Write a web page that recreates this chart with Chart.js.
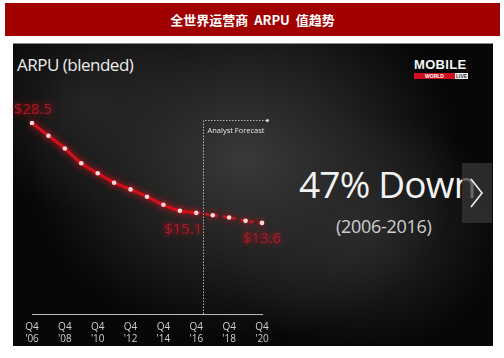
<!DOCTYPE html>
<html>
<head>
<meta charset="utf-8">
<script src="https://cdn.jsdelivr.net/npm/chart.js@4.4.1/dist/chart.umd.min.js"></script>
<style>
  html, body { margin:0; padding:0; background:#fff; width:504px; height:358px; overflow:hidden; }
  #header { position:absolute; left:5px; top:3px; width:495px; height:33px; background:#a00000;
    color:#fff; font:bold 13px "Noto Sans CJK SC", "Liberation Sans", sans-serif; text-align:center; line-height:33px; }
  #slide { position:absolute; left:13px; top:43px; width:480px; height:303px;
    border-top:1px solid #888; box-sizing:border-box;
    background:
      radial-gradient(ellipse 45% 60% at 48% 38%, rgba(60,60,60,0.95), rgba(45,45,45,0.7) 50%, rgba(0,0,0,0) 100%),
      radial-gradient(ellipse 30% 40% at 72% 62%, rgba(50,50,50,0.8), rgba(0,0,0,0) 100%),
      radial-gradient(ellipse 25% 35% at 15% 20%, rgba(40,40,40,0.8), rgba(0,0,0,0) 100%),
      #070707; }
  .txt { position:absolute; white-space:nowrap; font-family:"Open Sans", sans-serif; }
  #title { left:17px; top:53px; font-size:17px; color:#ececec; letter-spacing:-0.5px; }
  #big { left:299px; top:158px; font-size:37px; color:#f2f2f2; letter-spacing:-0.8px; }
  #years { left:336px; top:214px; font-size:18px; color:#cfcfcf; letter-spacing:-0.3px; }
  #arrowbox { position:absolute; left:462px; top:163px; width:30px; height:60px; background:rgba(55,55,55,0.75); }
  #mobile { left:414px; top:57px; font:bold 13px "Liberation Sans", sans-serif; color:#f4f4f4; letter-spacing:0.3px; }
  #wl { position:absolute; left:414px; top:73px; height:6px; width:54px; font:bold 5px "Liberation Sans", sans-serif; line-height:6px; }
  #wl span { display:inline-block; height:6px; }
  #chart { position:absolute; left:0; top:0; }
</style>
</head>
<body>
<div id="header">全世界运营商&nbsp;&nbsp;ARPU&nbsp;&nbsp;值趋势</div>
<div id="slide"></div>
<div class="txt" id="title">ARPU (blended)</div>
<div class="txt" id="mobile">MOBILE</div>
<div id="wl"><span style="background:#d0101e;color:#fff;width:41px;text-align:center">WORLD</span><span style="background:#eee;color:#333;width:13px;text-align:center">LIVE</span></div>
<div class="txt" id="big">47% Down</div>
<div class="txt" id="years">(2006-2016)</div>
<div id="arrowbox"><svg width="30" height="60"><polyline points="9,16 20,30 9,44" fill="none" stroke="#f0f0f0" stroke-width="1.6"/></svg></div>
<canvas id="chart" width="504" height="358"></canvas>
<script>
// ---- data ----
const quarterLabel = "Q4";
const years = ["'06","'07","'08","'09","'10","'11","'12","'13","'14","'15","'16","'17","'18","'19","'20"];
const arpu = [28.5, 26.6, 24.7, 22.5, 21.0, 19.6, 18.6, 17.5, 16.3, 15.4, 15.1, 14.75, 14.4, 13.9, 13.6];
const forecastStartIndex = 10;          // Q4 '16 — forecast begins after this point
const forecastLinePosition = 10.4;      // dashed separator (in category index units)
const forecastText = "Analyst Forecast";
const labelledPoints = [0, 10, 14];
const labelOffsets = [[1, -13], [-13, 17], [0, 16]];

const annotPlugin = {
  id: 'annot',
  beforeDatasetsDraw(chart) {
    const c = chart.ctx, xs = chart.scales.x, area = chart.chartArea;
    const x = Math.round(xs.getPixelForValue(forecastLinePosition)) + 0.5;
    const yTop = area.top + 7.5;
    c.save();
    c.shadowBlur = 0; c.shadowColor = 'rgba(0,0,0,0)';
    c.strokeStyle = 'rgba(205,205,205,0.85)'; c.lineWidth = 1; c.setLineDash([1.5, 1.5]);
    c.beginPath(); c.moveTo(x, area.bottom); c.lineTo(x, yTop); c.lineTo(x + 64, yTop); c.stroke();
    c.setLineDash([]);
    c.fillStyle = '#ddd'; c.beginPath(); c.arc(x + 64, yTop, 1.5, 0, Math.PI * 2); c.fill();
    c.fillStyle = '#e6e6e6'; c.font = '7.5px "Open Sans", sans-serif'; c.textBaseline = 'middle';
    c.fillText(forecastText, x + 4, yTop + 10);
    c.restore();
  },
  afterDatasetsDraw(chart) {
    const c = chart.ctx, meta = chart.getDatasetMeta(0);
    c.save();
    c.fillStyle = '#b01828'; c.font = '15px "Open Sans", sans-serif';
    c.textAlign = 'center'; c.textBaseline = 'middle';
    labelledPoints.forEach((i, k) => {
      const p = meta.data[i];
      c.fillText('$' + arpu[i].toFixed(1), p.x + labelOffsets[k][0], p.y + labelOffsets[k][1]);
    });
    c.restore();
  }
};

const glowPlugin = {
  id: 'glow',
  beforeDatasetsDraw(chart) {
    const c = chart.ctx; c.save();
    c.shadowColor = 'rgba(255,20,30,0.85)'; c.shadowBlur = 7;
  },
  afterDatasetsDraw(chart) { chart.ctx.restore(); }
};

new Chart(document.getElementById('chart'), {
  type: 'line',
  data: {
    labels: years,
    datasets: [{
      data: arpu,
      borderColor: '#d3101c',
      borderWidth: 3,
      tension: 0.3,
      pointRadius: 2.3,
      pointBackgroundColor: '#ffd8dc',
      pointBorderWidth: 0,
      segment: {
        borderDash: ctx => ctx.p0DataIndex >= forecastStartIndex ? [4, 5] : undefined,
        borderWidth: ctx => ctx.p0DataIndex >= forecastStartIndex ? 2.5 : 3
      }
    }]
  },
  options: {
    responsive: false,
    animation: false,
    devicePixelRatio: 1,
    layout: { padding: { left: 32, right: 242, top: 113, bottom: 6 } },
    plugins: { legend: { display: false }, tooltip: { enabled: false } },
    scales: {
      y: { display: false, min: 0, max: 30 },
      x: {
        offset: false,
        grid: { display: false, drawTicks: false },
        border: { display: true, color: '#b8b8b8', width: 1 },
        ticks: {
          autoSkip: false, maxRotation: 0, padding: 7,
          color: '#cfcfcf', font: { family: '"Open Sans", sans-serif', size: 10, lineHeight: 1.2 },
          callback: (v, i) => i % 2 === 0 ? [quarterLabel, years[i]] : ''
        }
      }
    }
  },
  plugins: [annotPlugin, glowPlugin]
});
</script>
</body>
</html>
